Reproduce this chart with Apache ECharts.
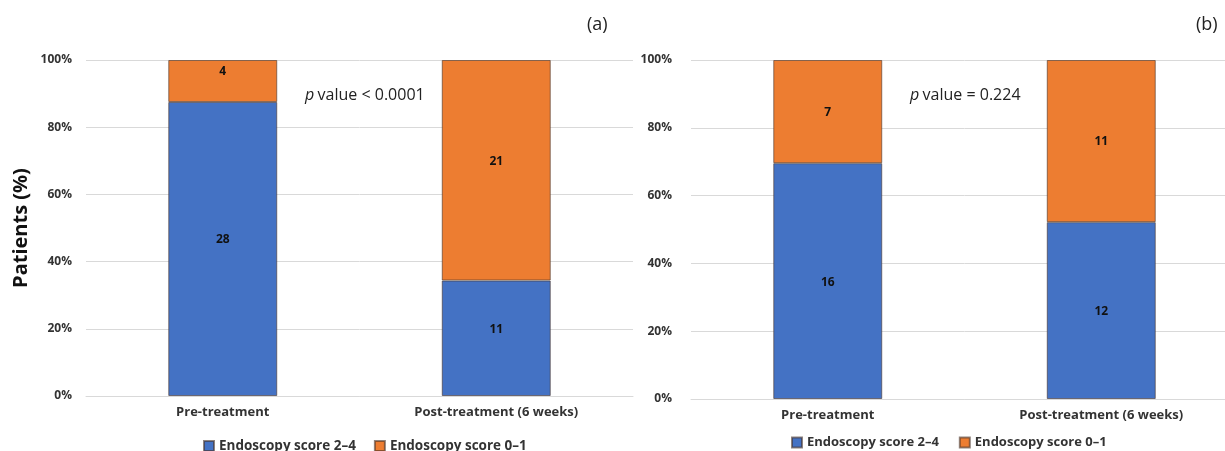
<!DOCTYPE html>
<html>
<head>
<meta charset="utf-8">
<script src="https://cdn.jsdelivr.net/npm/echarts@6/dist/echarts.min.js"></script>
<style>
  html, body { margin: 0; padding: 0; background: #fff; overflow: hidden; }
  #chart { width: 1245px; height: 451px; }
</style>
</head>
<body>
<div id="chart"></div>
<script>
var categories = ['Pre-treatment', 'Post-treatment (6 weeks)'];
var seriesNames = ['Endoscopy score 2\u20134', 'Endoscopy score 0\u20131'];
// counts per panel
var highA = [28, 11];
var lowA = [4, 21];
var highB = [16, 12];
var lowB = [7, 11];
var yTicks = [0, 20, 40, 60, 80, 100];

var myChart = echarts.init(document.getElementById('chart'));

function pct(part, other) {
  return part.map(function (v, i) {
    return { value: v / (v + other[i]) * 100, count: v };
  });
}

var font = 'Open Sans, Liberation Sans, sans-serif';
var blue = '#4472C4';
var orange = '#ED7D31';

function barSeries(name, data, color, idx) {
  return {
    name: name,
    type: 'bar',
    stack: 'p' + idx,
    xAxisIndex: idx,
    yAxisIndex: idx,
    barWidth: 109,
    data: data,
    itemStyle: { color: color, borderColor: 'rgba(70,50,40,0.6)', borderWidth: 1 },
    label: {
      show: true,
      position: 'inside',
      offset: idx === 0 ? [0, -9] : [0, 1],
      color: '#111',
      fontWeight: 'bold',
      fontSize: 12,
      fontFamily: font,
      formatter: function (p) { return p.data.count; }
    }
  };
}

function xAxisFor(idx) {
  return {
    type: 'category',
    gridIndex: idx,
    data: categories,
    axisTick: { show: false },
    axisLine: { lineStyle: { color: '#d9d9d9' } },
    axisLabel: { color: '#333', fontWeight: 'bold', fontSize: 13, fontFamily: font, margin: 10 }
  };
}

function yAxisFor(idx) {
  return {
    type: 'value',
    gridIndex: idx,
    min: 0,
    max: 100,
    interval: 20,
    axisLine: { show: false },
    axisTick: { show: false },
    splitLine: { lineStyle: { color: '#d9d9d9' } },
    axisLabel: {
      color: '#333', fontWeight: 'bold', fontSize: 12, fontFamily: font,
      margin: idx === 0 ? 14 : 19,
      formatter: function (v) { return yTicks.indexOf(v) >= 0 ? v + '%' : ''; }
    }
  };
}

function legendFor(left, top, size, gap) {
  return {
    left: left,
    top: top,
    itemWidth: 10,
    itemHeight: 10,
    itemGap: gap,
    icon: 'rect',
    textStyle: { color: '#333', fontWeight: 'bold', fontSize: size, fontFamily: font },
    data: seriesNames
  };
}

var pStyle = {
  i: { fontStyle: 'italic', fontSize: 16, fill: '#222', fontFamily: font },
  n: { fontSize: 16, fill: '#222', fontFamily: font }
};

var option = {
  animation: false,
  textStyle: { fontFamily: font },
  grid: [
    { left: 86, top: 60, width: 547, height: 336 },
    { left: 691, top: 60, width: 547, height: 339 }
  ],
  xAxis: [xAxisFor(0), xAxisFor(1)],
  yAxis: [
    Object.assign(yAxisFor(0), {
      name: 'Patients (%)',
      nameLocation: 'middle',
      nameGap: 55,
      nameTextStyle: { fontSize: 20, fontWeight: 'bold', color: '#111', fontFamily: font }
    }),
    yAxisFor(1)
  ],
  legend: [
    legendFor(198, 434, 13.5, 18),
    legendFor(786, 431, 13, 20)
  ],
  graphic: [
    { type: 'text', left: 587, top: 16, style: { text: '(a)', fontSize: 18, fill: '#222', fontFamily: font } },
    { type: 'text', left: 1196, top: 16, style: { text: '(b)', fontSize: 18, fill: '#222', fontFamily: font } },
    { type: 'text', left: 305, top: 87, style: { rich: pStyle, text: '{i|p} {n|value < 0.0001}' } },
    { type: 'text', left: 910, top: 87, style: { rich: pStyle, text: '{i|p} {n|value = 0.224}' } }
  ],
  series: [
    barSeries(seriesNames[0], pct(highA, lowA), blue, 0),
    barSeries(seriesNames[1], pct(lowA, highA), orange, 0),
    barSeries(seriesNames[0], pct(highB, lowB), blue, 1),
    barSeries(seriesNames[1], pct(lowB, highB), orange, 1)
  ]
};

myChart.setOption(option);
</script>
</body>
</html>
